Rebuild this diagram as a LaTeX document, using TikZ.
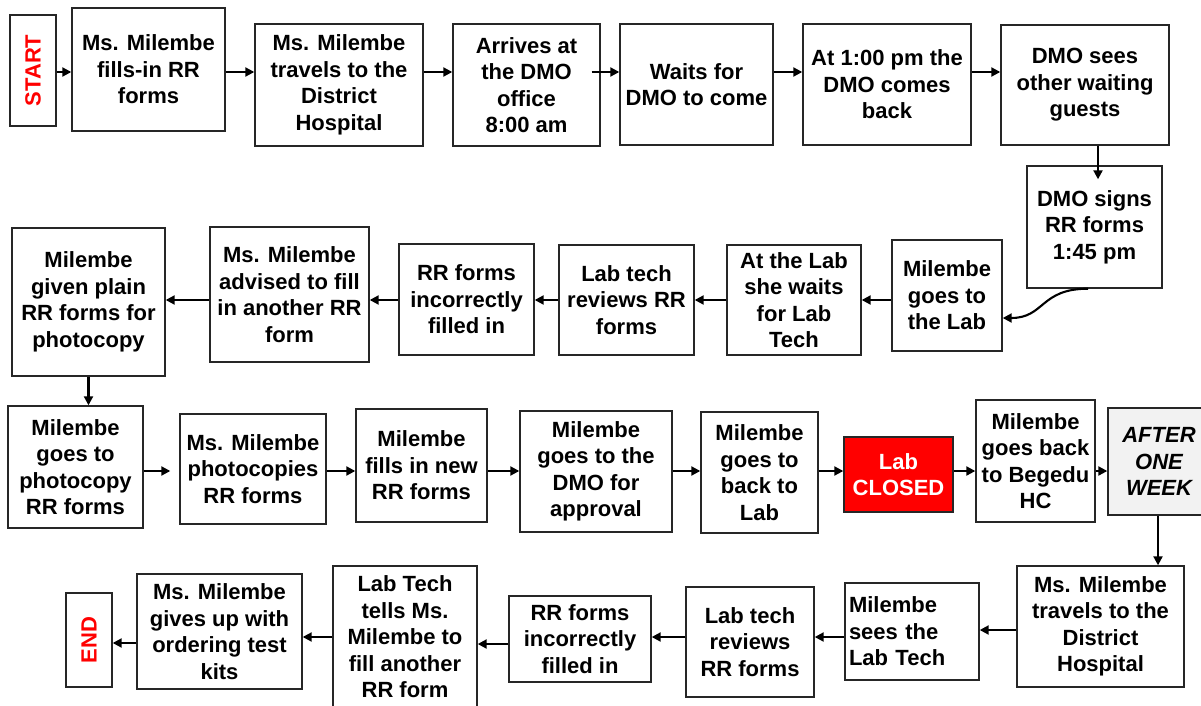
\documentclass[tikz,border=0pt]{standalone}
\usepackage{fontspec}
\setmainfont{Liberation Sans}
\usetikzlibrary{arrows.meta}
\definecolor{boxline}{HTML}{262626}
\definecolor{alarm}{HTML}{FF0000}
\definecolor{pausefill}{HTML}{F2F2F2}

\tikzset{
  stepbox/.style={draw=boxline, line width=1.4pt, fill=white, inner sep=0pt,
    align=center, font=\bfseries\fontsize{22}{26.5}\selectfont},
  closedbox/.style={stepbox, fill=alarm, text=white},
  pausebox/.style={stepbox, fill=pausefill, font=\bfseries\itshape\fontsize{22}{26.5}\selectfont},
  flow/.style={line width=2.1pt, draw=black, -{Triangle[length=9pt,width=9pt]}},
}

\begin{document}
\begin{tikzpicture}[x=1pt,y=-1pt]
\useasboundingbox (0,0) rectangle (1201,706);
\fill[white] (0,0) rectangle (1201,706);
\clip (0,0) rectangle (1201,706);

% ---------- first row ----------
\node[stepbox, minimum width=46pt, minimum height=111pt] (start) at (33,70.5) {\rotatebox{90}{\textcolor{alarm}{START}}};
\node[stepbox, minimum width=153pt, minimum height=123pt] (b1) at (148.5,69.5) {Ms. Milembe\\fills-in RR\\forms};
\node[stepbox, minimum width=168pt, minimum height=122pt] (b2) at (339,85) {Ms. Milembe\\travels to the\\District\\Hospital};
\node[stepbox, minimum width=147pt, minimum height=122pt] (b3) at (526.5,85) {Arrives at\\the DMO\\office\\8:00 am};
\node[stepbox, minimum width=153pt, minimum height=121pt] (b4) at (696.5,84.5) {Waits for\\DMO to come};
\node[stepbox, minimum width=168pt, minimum height=121pt] (b5) at (887,84.5) {At 1:00 pm the\\DMO comes\\back};
\node[stepbox, minimum width=168pt, minimum height=120pt] (b6) at (1085,85) {DMO sees\\other waiting\\guests};

% ---------- second row ----------
\node[stepbox, minimum width=135pt, minimum height=122pt] (signs) at (1094.5,227) {DMO signs\\RR forms\\1:45 pm};
\node[stepbox, minimum width=110pt, minimum height=111pt] (golab) at (947,295.5) {Milembe\\goes to\\the Lab};
\node[stepbox, minimum width=134pt, minimum height=110pt] (atlab) at (794,300) {At the Lab\\she waits\\for Lab\\Tech};
\node[stepbox, minimum width=135pt, minimum height=110pt] (review1) at (626.5,300) {Lab tech\\reviews RR\\forms};
\node[stepbox, minimum width=135pt, minimum height=111pt] (incorr1) at (466.5,299.5) {RR forms\\incorrectly\\filled in};
\node[stepbox, minimum width=159pt, minimum height=135pt] (advised) at (289.5,294.5) {Ms. Milembe\\advised to fill\\in another RR\\form};
\node[stepbox, minimum width=153pt, minimum height=148pt] (plain) at (88.5,302) {Milembe\\given plain\\RR forms for\\photocopy};

% ---------- third row ----------
\node[stepbox, minimum width=135pt, minimum height=122pt] (photo) at (75.5,467) {Milembe\\goes to\\photocopy\\RR forms};
\node[stepbox, minimum width=146pt, minimum height=110pt] (copies) at (253,469) {Ms. Milembe\\photocopies\\RR forms};
\node[stepbox, minimum width=131pt, minimum height=113pt] (fillnew) at (421.5,465.5) {Milembe\\fills in new\\RR forms};
\node[stepbox, minimum width=152pt, minimum height=121pt] (approval) at (596,471.5) {Milembe\\goes to the\\DMO for\\approval};
\node[stepbox, minimum width=117pt, minimum height=121pt] (backlab) at (759.5,472.5) {Milembe\\goes to\\back to\\Lab};
\node[closedbox, minimum width=109pt, minimum height=75pt] (closed) at (898.5,474.5) {Lab\\CLOSED};
\node[stepbox, minimum width=119pt, minimum height=122pt] (begedu) at (1035.5,461) {Milembe\\goes back\\to Begedu\\HC};
\node[pausebox, minimum width=102pt, minimum height=107pt] (after) at (1159,461.5) {AFTER\\ONE\\WEEK};

% ---------- fourth row ----------
\node[stepbox, minimum width=167pt, minimum height=121pt] (travel2) at (1100.5,626.5) {Ms. Milembe\\travels to the\\District\\Hospital};
\node[stepbox, align=left, text width=126pt, inner xsep=4pt, minimum height=97pt] (sees) at (912,631.5) {Milembe\\sees the\\Lab Tech};
\node[stepbox, minimum width=128pt, minimum height=110pt] (review2) at (750,642) {Lab tech\\reviews\\RR forms};
\node[stepbox, minimum width=142pt, minimum height=86pt] (incorr2) at (580,639) {RR forms\\incorrectly\\filled in};
\node[stepbox, minimum width=144pt, minimum height=142pt] (tells) at (405,637) {Lab Tech\\tells Ms.\\Milembe to\\fill another\\RR form};
\node[stepbox, minimum width=165pt, minimum height=115pt] (givesup) at (219.5,631.5) {Ms. Milembe\\gives up with\\ordering test\\kits};
\node[stepbox, minimum width=46pt, minimum height=94pt] (end) at (89,640) {\rotatebox{90}{\textcolor{alarm}{END}}};

% ---------- levels and helper points for the connectors ----------
\coordinate (r1) at (0,72);
\coordinate (r2) at (0,300);
\coordinate (r3) at (0,471);
\coordinate (r4) at (0,637);
\coordinate (r4a) at (0,630);
\coordinate (r4b) at (0,644);
\coordinate (r4c) at (0,643);
\coordinate (b3tail) at ([xshift=-9pt]b3.east);
\coordinate (c6) at (1098,0);
\coordinate (signsin) at ([yshift=-14pt]signs.north);
\coordinate (cs) at (1088,0);
\coordinate (ct) at (0,318);
\coordinate (copiesgap) at ([xshift=-9pt]copies.west);
\coordinate (c7) at (1158,0);

% ---------- connectors ----------
\draw[flow] (start.east |- r1) -- (b1.west |- r1);
\draw[flow] (b1.east |- r1) -- (b2.west |- r1);
\draw[flow] (b2.east |- r1) -- (b3.west |- r1);
\draw[flow] (b3tail |- r1) -- (b4.west |- r1);
\draw[flow] (b4.east |- r1) -- (b5.west |- r1);
\draw[flow] (b5.east |- r1) -- (b6.west |- r1);
\draw[flow] (b6.south -| c6) -- (signsin -| c6);
\draw[flow] (signs.south -| cs) .. controls +(-48,0) and +(42,0) .. (golab.east |- ct);

\draw[flow] (golab.west |- r2) -- (atlab.east |- r2);
\draw[flow] (atlab.west |- r2) -- (review1.east |- r2);
\draw[flow] (review1.west |- r2) -- (incorr1.east |- r2);
\draw[flow] (incorr1.west |- r2) -- (advised.east |- r2);
\draw[flow] (advised.west |- r2) -- (plain.east |- r2);
\draw[flow] (plain.south) -- (plain.south |- photo.north);

\draw[flow] (photo.east |- r3) -- (copiesgap |- r3);
\draw[flow] (copies.east |- r3) -- (fillnew.west |- r3);
\draw[flow] (fillnew.east |- r3) -- (approval.west |- r3);
\draw[flow] (approval.east |- r3) -- (backlab.west |- r3);
\draw[flow] (backlab.east |- r3) -- (closed.west |- r3);
\draw[flow] (closed.east |- r3) -- (begedu.west |- r3);
\draw[flow] (begedu.east |- r3) -- (after.west |- r3);
\draw[flow] (after.south -| c7) -- (travel2.north -| c7);

\draw[flow] (travel2.west |- r4a) -- (sees.east |- r4a);
\draw[flow] (sees.west |- r4) -- (review2.east |- r4);
\draw[flow] (review2.west |- r4) -- (incorr2.east |- r4);
\draw[flow] (incorr2.west |- r4b) -- (tells.east |- r4b);
\draw[flow] (tells.west |- r4) -- (givesup.east |- r4);
\draw[flow] (givesup.west |- r4c) -- (end.east |- r4c);
\end{tikzpicture}
\end{document}
